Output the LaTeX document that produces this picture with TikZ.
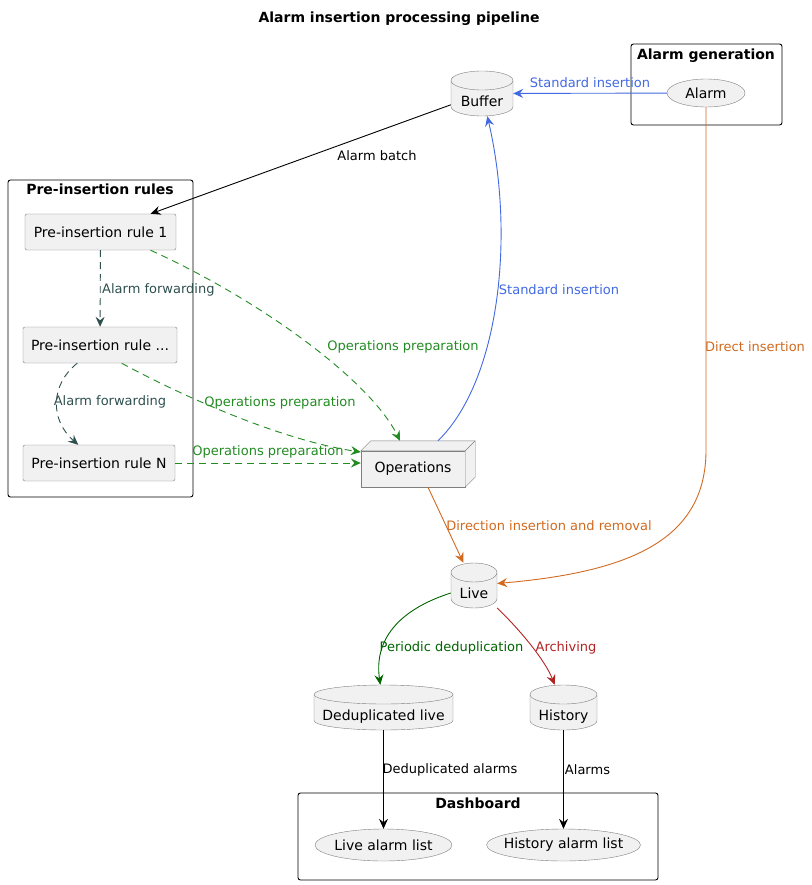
\documentclass[tikz,border=0pt]{standalone}
\usepackage{fontspec}
\setmainfont{DejaVu Sans}
\usetikzlibrary{shapes.geometric,arrows.meta}
\definecolor{nodefill}{HTML}{F1F1F1}
\definecolor{nodeline}{HTML}{7F7F7F}
\definecolor{stdblue}{HTML}{4169E1}
\definecolor{directorange}{HTML}{D2691E}
\definecolor{prepgreen}{HTML}{228B22}
\definecolor{fwdgray}{HTML}{2F4F4F}
\definecolor{dedupgreen}{HTML}{006400}
\definecolor{archred}{HTML}{B22222}
\newcommand{\nodefont}{\fontsize{14}{16}\selectfont}
\newcommand{\lblfont}{\fontsize{13}{15}\selectfont}
% database outline: centre x, top y, half width
\newcommand{\database}[3]{%
  \filldraw[draw=nodeline, fill=nodefill] (#1-#3,#2+9.5) -- (#1-#3,#2+35.5)
    arc[start angle=180, end angle=360, x radius=#3pt, y radius=9.5pt] -- (#1+#3,#2+9.5)
    arc[start angle=0, end angle=180, x radius=#3pt, y radius=9.5pt] -- cycle;
  \draw[nodeline] (#1-#3,#2+9.5) arc[start angle=180, end angle=360, x radius=#3pt, y radius=9.5pt];}
\newcommand{\dbtext}[1]{\raisebox{-9.5pt}{#1}}
\begin{document}
\begin{tikzpicture}[x=1pt, y=-1pt,
  tip/.style={-{Stealth[length=10pt,width=9pt,inset=3.5pt]}, line width=0.9pt},
  cluster/.style={draw, line width=0.9pt, rounded corners=2.5pt},
  ctitle/.style={font=\nodefont\bfseries, inner sep=0pt},
  rulebox/.style={draw=nodeline, fill=nodefill, rounded corners=2pt, minimum height=36, font=\nodefont},
  usecase/.style={ellipse, draw=nodeline, fill=nodefill, inner xsep=-10pt, inner ysep=0pt, font=\nodefont},
  db/.style={inner sep=0pt, minimum height=45, text height=10pt, text depth=3pt, font=\nodefont},
  lbl/.style={font=\lblfont, inner sep=0pt}]
  \useasboundingbox (0,0) rectangle (811,885);
  \node[font=\nodefont\bfseries] (title) at (399,19) {Alarm insertion processing pipeline};
  % clusters
  \draw[cluster] (631,44) rectangle (782,125);
  \node[ctitle] (gentitle) at (706,56) {Alarm generation};
  \draw[cluster] (8,180) rectangle (193,497);
  \node[ctitle] (pretitle) at (100,189.5) {Pre-insertion rules};
  \draw[cluster] (298,793) rectangle (658,880);
  \node[ctitle] (dashtitle) at (478,803.5) {Dashboard};
  % nodes
  \node[usecase, minimum width=78, minimum height=28] (alarm) at (706,93) {Alarm};
  \database{482}{71}{31}
  \node[db, minimum width=62] (buffer) at (482,93.5) {\dbtext{Buffer}};
  \node[rulebox, minimum width=151] (rule1) at (100.5,232) {Pre-insertion rule 1};
  \node[rulebox, minimum width=154] (ruledots) at (100,345) {Pre-insertion rule ...};
  \node[rulebox, minimum width=152] (ruleN) at (99,463) {Pre-insertion rule N};
  \node[draw=nodeline, fill=nodefill, minimum width=104, minimum height=36, font=\nodefont] (ops) at (413,469) {Operations};
  \filldraw[draw=nodeline, fill=nodefill] (ops.north west) -- ([xshift=10pt,yshift=10pt]ops.north west) -- ([xshift=10pt,yshift=10pt]ops.north east) -- ([xshift=10pt,yshift=10pt]ops.south east) -- (ops.south east) -- (ops.north east) -- cycle;
  \draw[draw=nodeline] (ops.north east) -- ([xshift=10pt,yshift=10pt]ops.north east);
  \database{474}{563}{23}
  \node[db, minimum width=46] (live) at (474,585.5) {\dbtext{Live}};
  \database{383.5}{685}{69.5}
  \node[db, minimum width=139] (dedup) at (383.5,707.5) {\dbtext{Deduplicated live}};
  \database{563.5}{685}{33.5}
  \node[db, minimum width=67] (history) at (563.5,707.5) {\dbtext{History}};
  \node[usecase, minimum width=137, minimum height=32] (livelist) at (383.5,845) {Live alarm list};
  \node[usecase, minimum width=154, minimum height=32] (histlist) at (563.5,845) {History alarm list};
  \coordinate (bendlive) at (706,450);
  % connectors
  \draw[tip, stdblue] (alarm) -- (buffer);
  \node[lbl, text=stdblue] (l1) at (590,83) {Standard insertion};
  \draw[tip] (buffer) -- (rule1);
  \node[lbl] (l2) at (377,156) {Alarm batch};
  \draw[tip, fwdgray, dash pattern=on 7pt off 5pt] (rule1) -- (ruledots);
  \node[lbl, text=fwdgray, anchor=west] (l3) at (102,290) {Alarm forwarding};
  \draw[tip, fwdgray, dash pattern=on 7pt off 5pt] (ruledots) .. controls (50,385) and (50,420) .. (ruleN);
  \node[lbl, text=fwdgray] (l4) at (110,402) {Alarm forwarding};
  \draw[tip, prepgreen, dash pattern=on 7pt off 5pt] (rule1.-20) .. controls (260,300) and (370,380) .. ([xshift=-13pt,yshift=10pt]ops.north);
  \node[lbl, text=prepgreen] (l5) at (403,346.5) {Operations preparation};
  \draw[tip, prepgreen, dash pattern=on 7pt off 5pt] (ruledots.-40) .. controls (180,395) and (280,440) .. (ops.162);
  \node[lbl, text=prepgreen] (l6) at (280,402.5) {Operations preparation};
  \draw[tip, prepgreen, dash pattern=on 7pt off 5pt] (ruleN.east) -- (ops.west |- ruleN.east);
  \node[lbl, text=prepgreen] (l7) at (268,452) {Operations preparation};
  \draw[tip, stdblue] ([xshift=25pt,yshift=10pt]ops.north) .. controls (500,380) and (515,235) .. (buffer);
  \node[lbl, text=stdblue] (l8) at (559,289.5) {Standard insertion};
  \draw[tip, directorange] (alarm) -- (bendlive) .. controls (706,540) and (630,572) .. (live);
  \node[lbl, text=directorange] (l9) at (755,346.5) {Direct insertion};
  \draw[tip, directorange] ([xshift=15pt]ops.south) -- (live);
  \node[lbl, text=directorange] (l10) at (549,525.5) {Direction insertion and removal};
  \draw[tip, dedupgreen] (live) .. controls (398,610) and (374,640) .. (dedup);
  \node[lbl, text=dedupgreen] (l11) at (451.5,647.5) {Periodic deduplication};
  \draw[tip, archred] (live) .. controls (520,630) and (545,660) .. (history);
  \node[lbl, text=archred] (l12) at (566,647.5) {Archiving};
  \draw[tip] (dedup) -- (livelist);
  \node[lbl] (l13) at (450,769.5) {Deduplicated alarms};
  \draw[tip] (history) -- (histlist);
  \node[lbl] (l14) at (587.5,769.5) {Alarms};
\end{tikzpicture}
\end{document}
